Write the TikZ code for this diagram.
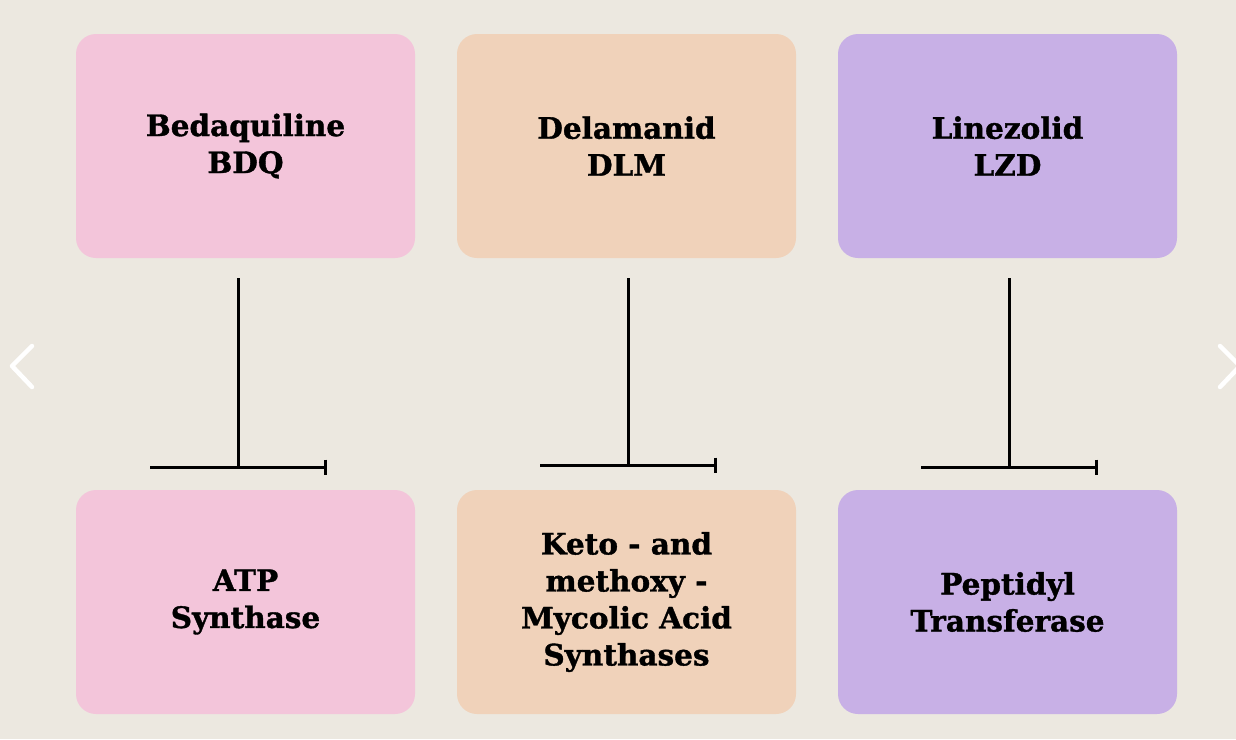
\documentclass[tikz,border=0pt]{standalone}
\usepackage{fontspec}
\setmainfont{DejaVu Serif}[BoldFeatures={FakeBold=1.2}]
\usetikzlibrary{arrows.meta}
\definecolor{bg}{HTML}{ECE8E0}
\definecolor{cpink}{HTML}{F3C5DA}
\definecolor{cpeach}{HTML}{F0D2BA}
\definecolor{cpurple}{HTML}{C8B0E6}
\tikzset{
  card/.style={rounded corners=20pt, minimum width=339pt, minimum height=224pt, inner sep=0pt, align=center,
    font=\fontsize{29.5}{37}\selectfont\bfseries, text=black},
  link/.style={line width=3pt, black},
  inhib/.style={line width=3pt, black, -{Bar[width=15pt,line width=3pt]}},
  chev/.style={line width=4.5pt, white, line cap=round, line join=round},
}
\begin{document}
\begin{tikzpicture}[x=1pt,y=-1pt]
\fill[bg] (0,0) rectangle (1236,739);
\useasboundingbox (0,0) rectangle (1236,739);
% top row
\node[card, fill=cpink]   (bdq) at (245.5,146) {Bedaquiline\\BDQ};
\node[card, fill=cpeach]  (dlm) at (626.5,146) {Delamanid\\DLM};
\node[card, fill=cpurple] (lzd) at (1007.5,146) {Linezolid\\LZD};
% bottom row
\node[card, fill=cpink]   (atp) at (245.5,602) {ATP\\Synthase};
\node[card, fill=cpeach]  (mas) at (626.5,602) {Keto - and\\methoxy -\\Mycolic Acid\\Synthases};
\node[card, fill=cpurple] (pt)  at (1007.5,602) {Peptidyl\\Transferase};
% connectors
\coordinate (a1) at (238,278); \coordinate (a2) at (238,467);
\coordinate (a3) at (150,467); \coordinate (a4) at (327,467);
\coordinate (b1) at (628,278); \coordinate (b2) at (628,465);
\coordinate (b3) at (540,465); \coordinate (b4) at (717,465);
\coordinate (c1) at (1009,278); \coordinate (c2) at (1009,467);
\coordinate (c3) at (921,467); \coordinate (c4) at (1098,467);
\draw[link] (a1) -- (a2);
\draw[inhib] (a3) -- (a4);
\draw[link] (b1) -- (b2);
\draw[inhib] (b3) -- (b4);
\draw[link] (c1) -- (c2);
\draw[inhib] (c3) -- (c4);
% navigation chevrons
\draw[chev] (32,346) -- (12,366) -- (32,387);
\draw[chev] (1220,346) -- (1240,366) -- (1220,387);
\end{tikzpicture}
\end{document}
